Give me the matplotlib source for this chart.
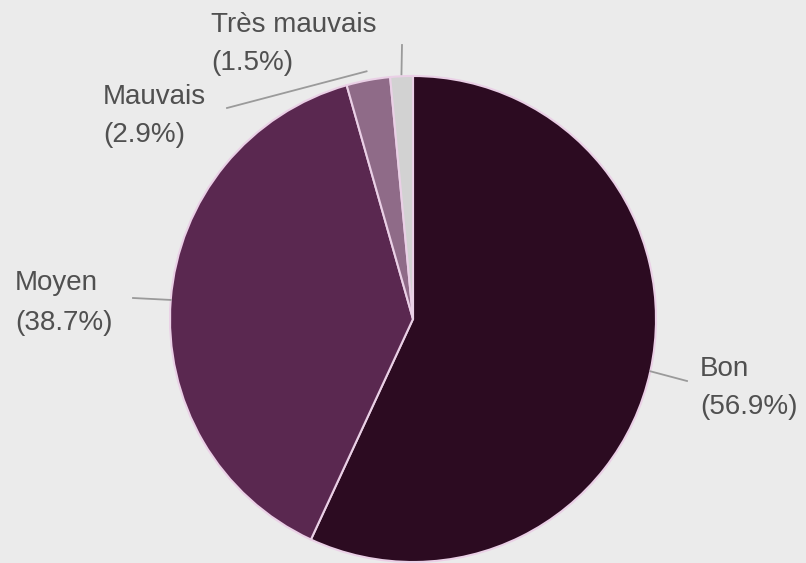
# pie chart of ratings, labels outside with leader lines

import matplotlib.pyplot as plt
import numpy as np

labels = ["Bon", "Moyen", "Mauvais", "Très mauvais"]
values = [56.9, 38.7, 2.9, 1.5]
colors = ["#2c0b21", "#5a2850", "#8f6b88", "#d2d2d2"]

# text anchor (left x, centre y) and leader line end, in pixels from top-left
text_pos = [(700, 388), (15, 303), (103, 116), (211, 44)]
line_end = [(687, 381), (133, 298), (227, 108), (402, 45)]
line_start_r = [243, 243, 252, 245]

W, H = 806, 563
cx, cy, R = 413, 319, 243

fig = plt.figure(figsize=(W / 100, H / 100), dpi=100)
fig.patch.set_facecolor("#ebebeb")
ax = fig.add_axes([0, 0, 1, 1])
ax.set_facecolor("#ebebeb")

wedges, _ = ax.pie(values, colors=colors, startangle=90, counterclock=False,
                   center=(cx, H - cy), radius=R,
                   wedgeprops=dict(edgecolor="#ead0e6", linewidth=1.5))
# pie() resets the limits, so set them afterwards
ax.set_xlim(0, W)
ax.set_ylim(0, H)
ax.set_aspect("equal")
ax.axis("off")

frac = np.cumsum([0] + values) / sum(values)
for i, lab in enumerate(labels):
    mid = (frac[i] + frac[i + 1]) / 2 * 2 * np.pi  # clockwise from top
    x0 = cx + line_start_r[i] * np.sin(mid)
    y0 = cy - line_start_r[i] * np.cos(mid)
    x1, y1 = line_end[i]
    ax.plot([x0, x1], [H - y0, H - y1], color="#9a9a9a", lw=1.3)
    tx, ty = text_pos[i]
    ax.text(tx, H - ty, f"{lab}\n({values[i]}%)", ha="left", va="center",
            fontsize=20, family="Liberation Sans", color="#505050",
            linespacing=1.65)

fig.savefig("out.png", dpi=100, facecolor=fig.get_facecolor())
